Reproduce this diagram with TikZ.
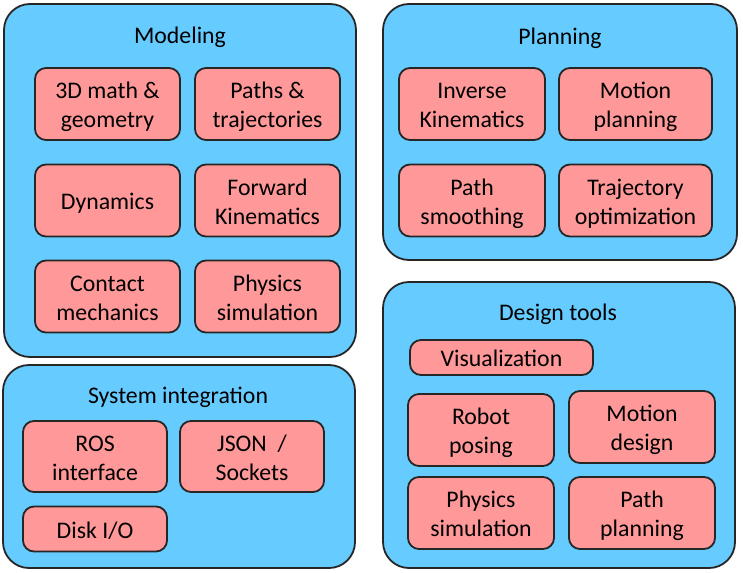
\documentclass[tikz,border=0pt]{standalone}
\usepackage{fontspec}
\setmainfont{Carlito}
\definecolor{grpblue}{HTML}{66CCFF}
\definecolor{itempink}{HTML}{FF9999}
\newcommand\sline[1]{\rule[-6pt]{0pt}{23pt}#1}
\begin{document}
\begin{tikzpicture}[x=1pt,y=-1pt,
  group/.style={draw=black!85, line width=1.8pt, fill=grpblue, rounded corners=26pt, inner sep=0pt},
  item/.style={draw=black!85, line width=1.8pt, fill=itempink, rounded corners=11pt, inner sep=0pt},
  itemtext/.style={align=center, inner sep=0pt, yshift=-3.6pt, font=\fontsize{23.8}{29}\selectfont},
  title/.style={font=\fontsize{23.8}{29}\selectfont, anchor=base, inner sep=0pt}]
\useasboundingbox (0,0) rectangle (743,572);
% Modeling
\node[group, minimum width=352pt, minimum height=353pt] (modeling) at (180,180.5) {};
\node[title] (modt) at (180,44) {Modeling};
\node[item, minimum width=145pt, minimum height=72pt, label={[itemtext]center:{\sline{3D math \&}\\\sline{geometry}}}] (m1) at (107.5,104) {};
\node[item, minimum width=145pt, minimum height=72pt, label={[itemtext]center:{\sline{Paths \&}\\\sline{trajectories}}}] (m2) at (267.5,104) {};
\node[item, minimum width=145pt, minimum height=72pt, label={[itemtext]center:{\sline{Dynamics}}}] (m3) at (107.5,200.5) {};
\node[item, minimum width=145pt, minimum height=72pt, label={[itemtext]center:{\sline{Forward}\\\sline{Kinematics}}}] (m4) at (267.5,200.5) {};
\node[item, minimum width=145pt, minimum height=72pt, label={[itemtext]center:{\sline{Contact}\\\sline{mechanics}}}] (m5) at (107.5,296.5) {};
\node[item, minimum width=145pt, minimum height=72pt, label={[itemtext]center:{\sline{Physics}\\\sline{simulation}}}] (m6) at (267.5,296.5) {};
% Planning
\node[group, minimum width=354pt, minimum height=256pt] (planning) at (560,132) {};
\node[title] (plant) at (560,45) {Planning};
\node[item, minimum width=146pt, minimum height=72pt, label={[itemtext]center:{\sline{Inverse}\\\sline{Kinematics}}}] (p1) at (472,104) {};
\node[item, minimum width=153pt, minimum height=72pt, label={[itemtext]center:{\sline{Motion}\\\sline{planning}}}] (p2) at (635.5,104) {};
\node[item, minimum width=146pt, minimum height=72pt, label={[itemtext]center:{\sline{Path}\\\sline{smoothing}}}] (p3) at (472,200.5) {};
\node[item, minimum width=153pt, minimum height=72pt, label={[itemtext]center:{\sline{Trajectory}\\\sline{optimization}}}] (p4) at (635.5,200.5) {};
% System integration
\node[group, minimum width=352pt, minimum height=203pt] (system) at (179,466.5) {};
\node[title] (syst) at (178,403.3) {System integration};
\node[item, minimum width=144pt, minimum height=71pt, label={[itemtext]center:{\sline{ROS}\\\sline{interface}}}] (s1) at (95,456.5) {};
\node[item, minimum width=144pt, minimum height=71pt, label={[itemtext]center:{\sline{JSON~~/}\\\sline{Sockets}}}] (s2) at (252,456.5) {};
\node[item, minimum width=144pt, minimum height=45pt, label={[itemtext]center:{\sline{Disk I/O}}}] (s3) at (95,529) {};
% Design tools
\node[group, minimum width=352pt, minimum height=286pt] (design) at (559,425) {};
\node[title] (dest) at (558,320.7) {Design tools};
\node[item, minimum width=183pt, minimum height=35pt, label={[itemtext]center:{\sline{Visualization}}}] (d1) at (501.5,357.5) {};
\node[item, minimum width=146pt, minimum height=72pt, label={[itemtext]center:{\sline{Robot}\\\sline{posing}}}] (d2) at (481,430) {};
\node[item, minimum width=146pt, minimum height=72pt, label={[itemtext]center:{\sline{Motion}\\\sline{design}}}] (d3) at (642,427) {};
\node[item, minimum width=146pt, minimum height=72pt, label={[itemtext]center:{\sline{Physics}\\\sline{simulation}}}] (d4) at (481,513) {};
\node[item, minimum width=146pt, minimum height=72pt, label={[itemtext]center:{\sline{Path}\\\sline{planning}}}] (d5) at (642,513) {};
\end{tikzpicture}
\end{document}
